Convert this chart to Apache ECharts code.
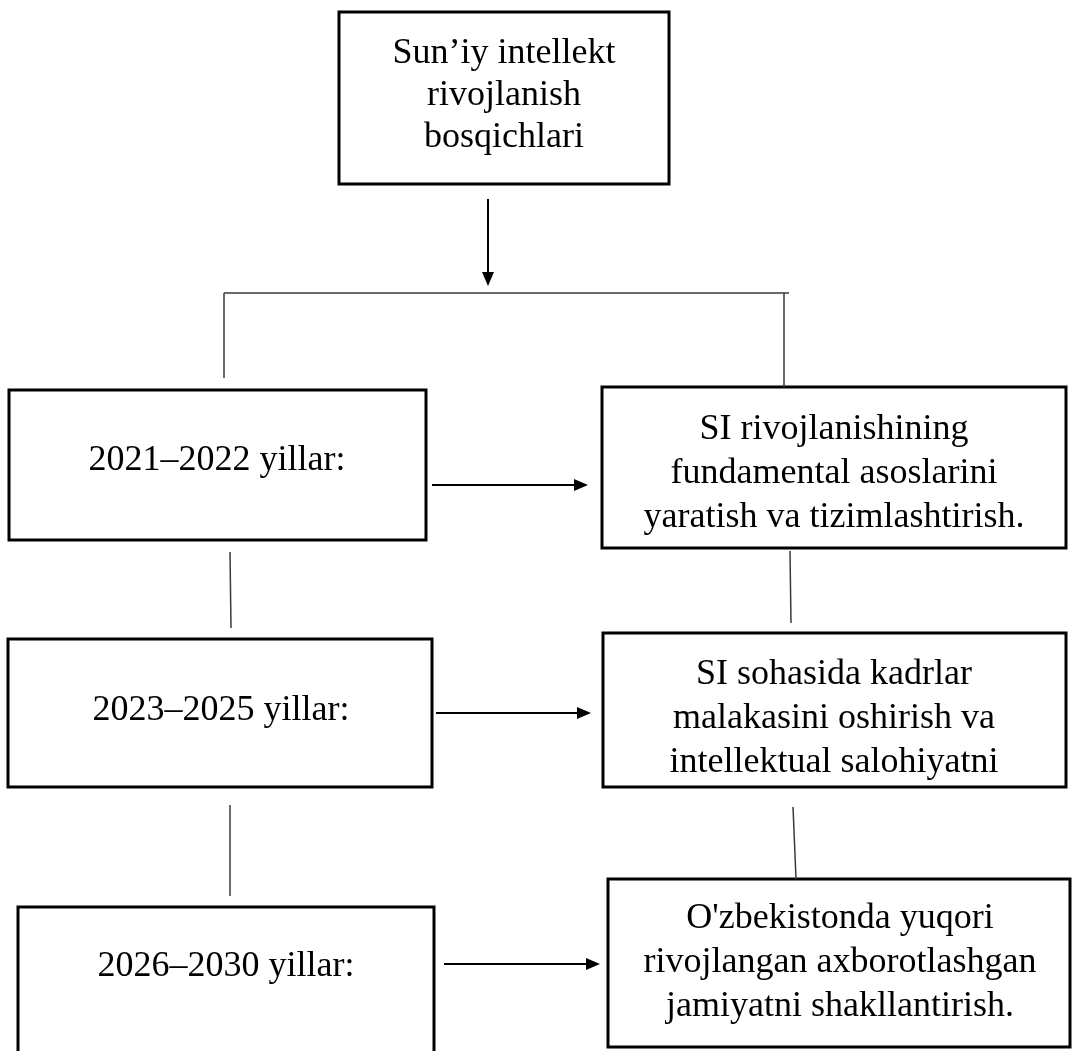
<!DOCTYPE html>
<html><head><meta charset="utf-8">
<script src="https://cdn.jsdelivr.net/npm/echarts@6/dist/echarts.min.js"></script>
<style>html,body{margin:0;padding:0;background:#fff}#c{width:1076px;height:1051px}</style>
</head><body><div id="c"></div>
<script>
// ---- content ----
const rootTitle = ["Sun’iy intellekt", "rivojlanish", "bosqichlari"];
const stagePeriods = ["2021–2022 yillar:", "2023–2025 yillar:", "2026–2030 yillar:"];
const stageGoals = [
  ["SI rivojlanishining", "fundamental asoslarini", "yaratish va tizimlashtirish."],
  ["SI sohasida kadrlar", "malakasini oshirish va", "intellektual salohiyatni"],
  ["O'zbekistonda yuqori", "rivojlangan axborotlashgan", "jamiyatni shakllantirish."]
];

// ---- layout (canvas units on hidden value axes) ----
const rootBox = [339, 12, 669, 184];
const leftBoxes = [[9, 390, 426, 540], [8, 639, 432, 787], [18, 907, 434, 1060]];
const rightBoxes = [[602, 387, 1066, 548], [603, 633, 1066, 787], [608, 879, 1070, 1047]];
const connectorLines = [
  [[224, 293], [789, 293]],
  [[224, 293], [224, 378]],
  [[784, 293], [784, 387]],
  [[230, 552], [231, 628]],
  [[230, 805], [230, 896]],
  [[790, 551], [791, 623]],
  [[793, 807], [796, 879]]
];
const arrows = [
  [[488, 199], [488, 286]],
  [[432, 485], [588, 485]],
  [[436, 713], [591, 713]],
  [[444, 964], [600, 964]]
];
// text anchor (center) per box and line height
const textCenters = [[504, 96], [217, 461], [221, 711], [226, 967], [834, 474], [834, 719], [840, 963]];
const lineHeights = [42, 44, 44, 44, 44, 44, 44];

const FONT = '"Liberation Serif", "Times New Roman", serif';
const boxData = [];
boxData.push([...rootBox, rootTitle.join('\n')]);
leftBoxes.forEach((b, i) => boxData.push([...b, stagePeriods[i]]));
rightBoxes.forEach((b, i) => boxData.push([...b, stageGoals[i].join('\n')]));
boxData.forEach((d, i) => { d.push(textCenters[i][0], textCenters[i][1]); });

const chart = echarts.init(document.getElementById('c'), null, {renderer: 'canvas'});
chart.setOption({
  animation: false,
  backgroundColor: '#ffffff',
  grid: {left: 0, right: 0, top: 0, bottom: 0},
  xAxis: {type: 'value', min: 0, max: 1076, show: false},
  yAxis: {type: 'value', min: 0, max: 1051, inverse: true, show: false},
  series: [
    {
      type: 'custom',
      data: boxData,
      encode: {x: [0, 2], y: [1, 3]},
      clip: false,
      renderItem: function (params, api) {
        const p0 = api.coord([api.value(0), api.value(1)]);
        const p1 = api.coord([api.value(2), api.value(3)]);
        const tc = api.coord([api.value(5), api.value(6)]);
        const txt = boxData[params.dataIndex][4];
        return {
          type: 'group',
          children: [
            {type: 'rect', shape: {x: p0[0], y: p0[1], width: p1[0] - p0[0], height: p1[1] - p0[1]},
             style: {fill: '#ffffff', stroke: '#000000', lineWidth: 3}},
            {type: 'text', x: tc[0], y: tc[1],
             style: {text: txt, fill: '#000000', font: '36px ' + FONT, align: 'center', verticalAlign: 'middle',
                     lineHeight: lineHeights[params.dataIndex]}}
          ]
        };
      }
    },
    {
      type: 'custom',
      data: connectorLines.map(l => [l[0][0], l[0][1], l[1][0], l[1][1]]),
      encode: {x: [0, 2], y: [1, 3]},
      clip: false,
      renderItem: function (params, api) {
        const a = api.coord([api.value(0), api.value(1)]);
        const b = api.coord([api.value(2), api.value(3)]);
        return {type: 'line', shape: {x1: a[0], y1: a[1], x2: b[0], y2: b[1]},
                style: {stroke: '#3a3a3a', lineWidth: 1.5}};
      }
    },
    {
      type: 'custom',
      data: arrows.map(l => [l[0][0], l[0][1], l[1][0], l[1][1]]),
      encode: {x: [0, 2], y: [1, 3]},
      clip: false,
      renderItem: function (params, api) {
        const a = api.coord([api.value(0), api.value(1)]);
        const b = api.coord([api.value(2), api.value(3)]);
        const dx = b[0] - a[0], dy = b[1] - a[1];
        const len = Math.sqrt(dx * dx + dy * dy);
        const ux = dx / len, uy = dy / len;
        const hl = 14, hw = 6;
        const bx = b[0] - ux * hl, by = b[1] - uy * hl;
        return {
          type: 'group',
          children: [
            {type: 'line', shape: {x1: a[0], y1: a[1], x2: bx, y2: by}, style: {stroke: '#000', lineWidth: 2}},
            {type: 'polygon', shape: {points: [[b[0], b[1]], [bx - uy * hw, by + ux * hw], [bx + uy * hw, by - ux * hw]]},
             style: {fill: '#000'}}
          ]
        };
      }
    }
  ]
});
</script>
</body></html>
